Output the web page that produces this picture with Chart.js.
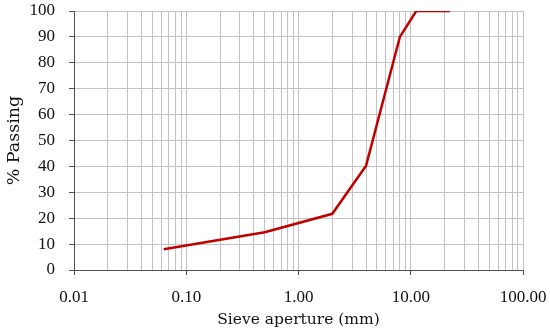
<!DOCTYPE html>
<html>
<head>
<meta charset="utf-8">
<script src="https://cdn.jsdelivr.net/npm/chart.js@4/dist/chart.umd.min.js"></script>
<style>
  html, body { margin: 0; padding: 0; background: #fff; }
  #wrap { width: 550px; height: 335px; }
</style>
</head>
<body>
<div id="wrap"><canvas id="c" width="550" height="335"></canvas></div>
<script>
// Sieve sizes (mm) and % passing
const sieveSizes = [0.063, 0.5, 2, 4, 8, 11.2, 22.4];
const percentPassing = [8, 14.6, 21.7, 40.3, 90, 100, 100];

// Log-axis grid positions and decade labels
const xGridValues = [
  0.01, 0.02, 0.03, 0.04, 0.05, 0.06, 0.07, 0.08, 0.09,
  0.1, 0.2, 0.3, 0.4, 0.5, 0.6, 0.7, 0.8, 0.9,
  1, 2, 3, 4, 5, 6, 7, 8, 9,
  10, 20, 30, 40, 50, 60, 70, 80, 90,
  100
];
const xDecades = [0.01, 0.1, 1, 10, 100];
const xDecadeLabels = ['0.01', '0.10', '1.00', '10.00', '100.00'];
const yTicks = [0, 10, 20, 30, 40, 50, 60, 70, 80, 90, 100];

const gridGray = '#c3c3c3';
const axisDark = '#505050';
const tickFont = { family: 'Liberation Serif', size: 17 };
const xTitleFont = { family: 'DejaVu Serif', size: 15.5 };
const yTitleFont = { family: 'DejaVu Serif', size: 17.5 };

function isDecade(v) {
  return xDecades.some(d => Math.abs(d - v) < 1e-9);
}

new Chart(document.getElementById('c'), {
  type: 'line',
  data: {
    datasets: [{
      data: sieveSizes.map((x, i) => ({ x: x, y: percentPassing[i] })),
      borderColor: '#c00000',
      borderWidth: 2.5,
      pointRadius: 0,
      tension: 0,
      fill: false
    }]
  },
  options: {
    responsive: false,
    animation: false,
    layout: { padding: { left: 0, right: 27, top: 11, bottom: 0 } },
    plugins: { legend: { display: false }, tooltip: { enabled: false } },
    scales: {
      x: {
        type: 'logarithmic',
        min: 0.01,
        max: 100,
        afterBuildTicks: (scale) => {
          scale.ticks = xGridValues.map(v => ({ value: v, major: isDecade(v) }));
        },
        afterFit: (scale) => {
          scale.height = 65;
          scale.paddingLeft = 0;
          scale.paddingRight = 0;
        },
        ticks: {
          autoSkip: false,
          maxRotation: 0,
          minRotation: 0,
          padding: 12,
          color: '#111',
          font: tickFont,
          callback: function (value) {
            const idx = xDecades.findIndex(d => Math.abs(d - value) < 1e-9);
            return idx >= 0 ? xDecadeLabels[idx] : '';
          }
        },
        grid: {
          color: gridGray,
          lineWidth: 1,
          drawTicks: true,
          tickLength: 5,
          tickColor: (ctx) => (ctx.tick && isDecade(ctx.tick.value)) ? axisDark : 'rgba(0,0,0,0)'
        },
        border: { display: true, color: axisDark, width: 1 },
        title: {
          display: true,
          text: 'Sieve aperture (mm)',
          color: '#111',
          font: xTitleFont,
          padding: { top: 0, bottom: 6 }
        }
      },
      y: {
        type: 'linear',
        min: 0,
        max: 100,
        afterBuildTicks: (scale) => {
          scale.ticks = yTicks.map(v => ({ value: v }));
        },
        afterFit: (scale) => {
          scale.width = 74;
          scale.paddingTop = 0;
          scale.paddingBottom = 0;
        },
        ticks: {
          padding: 14,
          color: '#111',
          font: tickFont
        },
        grid: {
          color: gridGray,
          lineWidth: 1,
          drawTicks: true,
          tickLength: 5,
          tickColor: axisDark
        },
        border: { display: true, color: axisDark, width: 1 },
        title: {
          display: true,
          text: '% Passing',
          color: '#111',
          font: yTitleFont,
          padding: { top: 4, bottom: 0 }
        }
      }
    }
  }
});
</script>
</body>
</html>
